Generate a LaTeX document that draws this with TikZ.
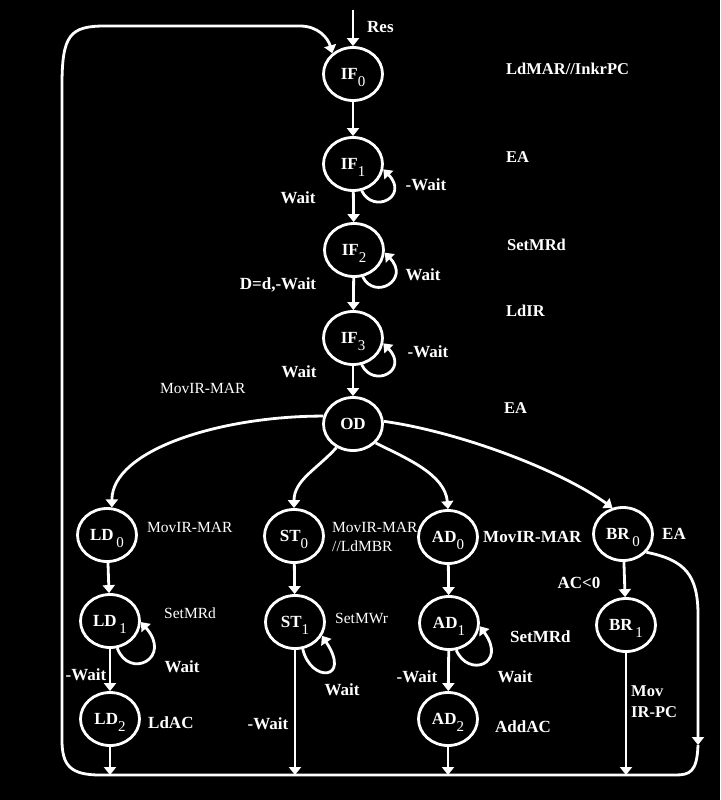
\documentclass[tikz,border=0pt]{standalone}
\usepackage{fontspec}
\setmainfont{Liberation Serif}
\usetikzlibrary{arrows.meta, shapes.geometric}

\newcommand{\idx}[2]{\textbf{#1}\raisebox{-7pt}{\fontsize{15pt}{15pt}\selectfont #2}}

\begin{document}
\begin{tikzpicture}[
  x=1pt, y=-1pt,
  etat/.style={
    ellipse, draw=white, line width=2.8pt, text=white,
    minimum width=59pt, minimum height=53pt, inner sep=0pt,
    text height=11pt, text depth=0pt,
    font=\fontsize{17pt}{17pt}\selectfont
  },
  lbl/.style={
    text=white, inner sep=0pt, font=\fontsize{17pt}{17pt}\selectfont\bfseries
  },
  act/.style={
    text=white, inner sep=0pt, anchor=west, align=left,
    font=\fontsize{16.5pt}{21pt}\selectfont\bfseries
  },
  note/.style={
    text=white, inner sep=0pt, anchor=west, align=left,
    font=\fontsize{15.5pt}{19pt}\selectfont
  },
  main/.style={
    -{Triangle[length=8pt, width=12pt]},
    draw=white, line width=2.8pt
  }
]
\fill[black] (0,0) rectangle (720,800);

% ----- Holphase -----
\coordinate (res) at (353,10);
\node[etat] (if0) at (353,74)  {\idx{IF}{0}};
\node[etat] (if1) at (353,164) {\idx{IF}{1}};
\node[etat] (if2) at (354,250) {\idx{IF}{2}};
\node[etat] (if3) at (353,338) {\idx{IF}{3}};
\node[etat] (od)  at (353,424) {\textbf{OD}};
\node[lbl, anchor=west] (reslbl) at (367,27) {Res};
\draw[main] (res) -- (if0);
\draw[main] (if0) -- (if1);
\draw[main] (if1) -- (if2);
\draw[main] (if2) -- (if3);
\draw[main] (if3) -- (od);
\draw[main] (if1.-72) .. controls +(12,24) and +(26,27) .. (if1.-10);
\draw[main] (if2.-72) .. controls +(12,24) and +(26,27) .. (if2.-5);
\draw[main] (if3.-72) .. controls +(12,24) and +(26,27) .. (if3.-10);
\node[lbl] at (298,198) {Wait};
\node[lbl] at (278,285) {D=d,-Wait};
\node[lbl] at (299,372) {Wait};
\node[note] at (160,388) {MovIR-MAR};
\node[lbl] at (426,185) {-Wait};
\node[lbl] at (423,275) {Wait};
\node[lbl] at (428,352) {-Wait};
\node[act] at (506,69)  {LdMAR//InkrPC};
\node[act] at (506,157) {EA};
\node[act] at (507,245) {SetMRd};
\node[act] at (506,311) {LdIR};
\node[act] at (504,408) {EA};

% ----- Befehle -----
\node[etat] (ld0) at (107,535) {\idx{LD\,}{0}};
\node[etat] (ld1) at (110,621) {\idx{LD\,}{1}};
\node[etat] (ld2) at (110,719) {\idx{LD}{2}};
\node[etat] (st0) at (294,536) {\idx{ST}{0}};
\node[etat] (st1) at (295,622) {\idx{ST}{1}};
\node[etat] (ad0) at (448,537) {\idx{AD}{0}};
\node[etat] (ad1) at (449,623) {\idx{AD}{1}};
\node[etat] (ad2) at (448,719) {\idx{AD}{2}};
\node[etat] (br0) at (623,534) {\idx{BR\,}{0}};
\node[etat] (br1) at (626,625) {\idx{BR\,}{1}};

\draw[main] (od.165) .. controls (220,416) and (112,450) .. (ld0.80);
\draw[main] (od.235) .. controls +(-20,22) and +(0,-28) .. (st0.north);
\draw[main] (od.-40) .. controls +(30,15) and +(-3,-35) .. (ad0.north);
\draw[main] (od.5) .. controls (460,432) and (560,470) .. (br0.112);

\draw[main] (ld0) -- (ld1);
\draw[main] (ld1) -- (ld2);
\draw[main] (st0) -- (st1);
\draw[main] (ad0) -- (ad1);
\draw[main] (ad1) -- (ad2);
\draw[main] (br0) -- (br1);
\draw[main] (ld1.-75) .. controls +(12,32) and +(32,36) .. (ld1.-2);
\draw[main] (st1.-74) .. controls +(8,34) and +(30,45) .. (st1.-27);
\draw[main] (ad1.-75) .. controls +(12,28) and +(28,38) .. (ad1.-6);

\node[note] at (147,527) {MovIR-MAR};
\node[note] at (332,537) {MovIR-MAR\\//LdMBR};
\node[lbl, anchor=west] at (483,537) {MovIR-MAR};
\node[lbl, anchor=west] at (662,534) {EA};
\node[note] at (164,613) {SetMRd};
\node[lbl] at (182,667) {Wait};
\node[lbl] at (86,675) {-Wait};
\node[lbl, anchor=west] at (148,723) {LdAC};
\node[note] at (335,618) {SetMWr};
\node[lbl] at (342,690) {Wait};
\node[lbl] at (268,724) {-Wait};
\node[lbl, anchor=west] at (510,637) {SetMRd};
\node[lbl] at (515,677) {Wait};
\node[lbl] at (417,677) {-Wait};
\node[lbl, anchor=west] at (495,727) {AddAC};
\node[lbl] at (579,583) {AC<0};
\node[act] at (631,702) {Mov\\IR-PC};

% ----- Rueckfuehrung -----
\coordinate (bas) at (0,775);
\coordinate (rc) at (698,745);
\draw[main] (ld2.south) -- (ld2.south |- bas);
\draw[main] (st1.south) -- (st1.south |- bas);
\draw[main] (ad2.south) -- (ad2.south |- bas);
\draw[main] (br1.south) -- (br1.south |- bas);
\draw[main] (br0.-38) .. controls (685,560) and (698,575) .. (698,615) -- (rc);
\draw[main] (rc) .. controls (697,772) and (690,775) .. (675,775) -- (100,775)
  .. controls (70,775) and (62,765) .. (62,740) -- (62,85)
  .. controls (62,35) and (70,26) .. (105,26) -- (300,26)
  .. controls (318,26) and (328,38) .. (if0.135);

\end{tikzpicture}
\end{document}
